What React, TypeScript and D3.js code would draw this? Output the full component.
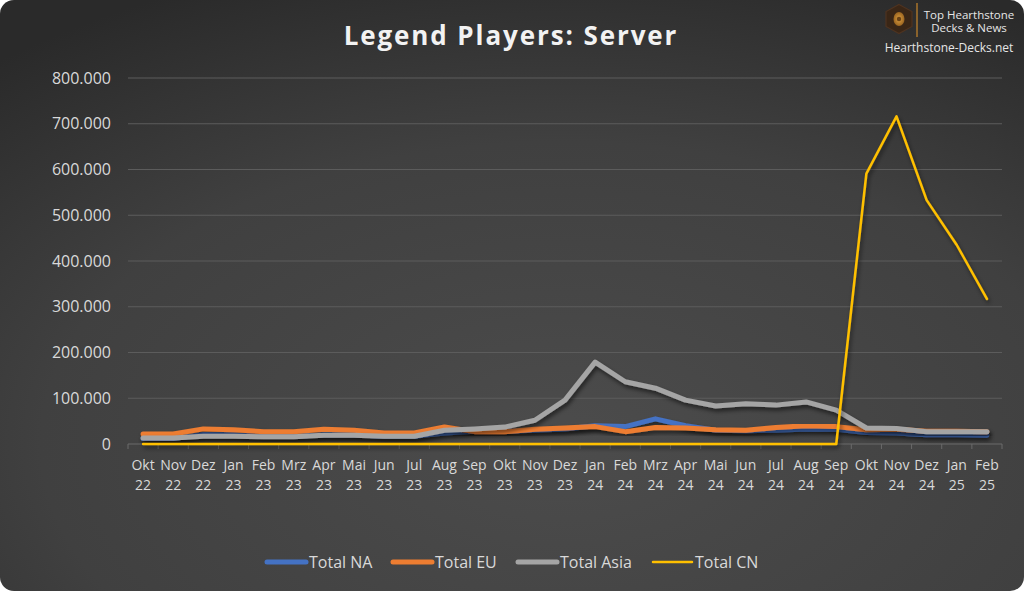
import React from "react";
import * as d3 from "d3";

const months = ["Okt","Nov","Dez","Jan","Feb","Mrz","Apr","Mai","Jun","Jul","Aug","Sep","Okt","Nov","Dez","Jan","Feb","Mrz","Apr","Mai","Jun","Jul","Aug","Sep","Okt","Nov","Dez","Jan","Feb"];
const years = ["22","22","22","23","23","23","23","23","23","23","23","23","23","23","23","24","24","24","24","24","24","24","24","24","24","24","24","25","25"];

const totalNA = [12000,12000,21000,20000,17000,17000,20000,20000,17000,17000,24000,28000,28000,30000,33000,40000,38000,55000,40000,30000,29000,30000,33000,32000,25000,24000,20000,20000,19000];
const totalEU = [22000,22000,33000,31000,27000,27000,32000,30000,24000,24000,37000,27000,27000,32000,35000,38000,27000,36000,35000,31000,30000,36000,40000,38000,31000,32000,28000,28000,27000];
const totalAsia = [13000,13000,17000,17000,16000,16000,19000,19000,17000,17000,30000,33000,37000,52000,96000,179000,136000,122000,96000,83000,88000,85000,92000,74000,35000,34000,27000,27000,27000];
const totalCN = [0,0,0,0,0,0,0,0,0,0,0,0,0,0,0,0,0,0,0,0,0,0,0,0,591000,716000,533000,435000,317000];

const yTicks = [0,100000,200000,300000,400000,500000,600000,700000,800000];

const series = [
  { name: "Total NA", values: totalNA, color: "#4472c4", width: 5 },
  { name: "Total EU", values: totalEU, color: "#ed7d31", width: 5 },
  { name: "Total Asia", values: totalAsia, color: "#a5a5a5", width: 5 },
  { name: "Total CN", values: totalCN, color: "#ffc000", width: 2.5 },
];

const W = 1024, H = 591;
const left = 128, right = 1002, top = 78, bottom = 444;

export default function App() {
  const x = d3.scaleBand<number>().domain(months.map((_, i) => i)).range([left, right]);
  const y = d3.scaleLinear().domain([0, 800000]).range([bottom, top]);
  const fmt = (v: number) => (v === 0 ? "0" : d3.format(",")(v).replace(/,/g, "."));
  const line = (vals: number[]) =>
    d3.line<number>().x((_, i) => (x(i) as number) + x.bandwidth() / 2).y((d) => y(d))(vals) as string;

  const legendItems = [
    { s: series[0], x0: 265 },
    { s: series[1], x0: 391 },
    { s: series[2], x0: 516 },
    { s: series[3], x0: 651 },
  ];
  const font = "'Open Sans', 'DejaVu Sans', sans-serif";

  return (
    <svg width={W} height={H} style={{ position: "absolute", left: 0, top: 0 }} fontFamily={font}>
      <defs>
        <radialGradient id="bg" cx="0.55" cy="0.75" r="0.85">
          <stop offset="0" stopColor="#4c4c4c" />
          <stop offset="0.6" stopColor="#404040" />
          <stop offset="1" stopColor="#2a2a2a" />
        </radialGradient>
        <filter id="sh" x="-10%" y="-10%" width="120%" height="130%">
          <feDropShadow dx="1.5" dy="3" stdDeviation="2" floodColor="#000" floodOpacity="0.55" />
        </filter>
        <radialGradient id="hex" cx="0.5" cy="0.5" r="0.5">
          <stop offset="0" stopColor="#e0a040" />
          <stop offset="1" stopColor="#9a6420" />
        </radialGradient>
      </defs>
      <rect x={0} y={0} width={W} height={H} fill="#ffffff" />
      <rect x={0} y={0} width={W} height={H} rx={14} ry={14} fill="url(#bg)" />

      {/* title */}
      <text x={511} y={45} textAnchor="middle" fill="#f2f2f2" fontSize={26} fontWeight={700} letterSpacing={1.9}>
        Legend Players: Server
      </text>

      {/* logo */}
      <g>
        <path d="M899,4.5 L912,11.5 L912,26.5 L899,33.5 L886,26.5 L886,11.5 Z" fill="#3a2616" stroke="#4e3320" strokeWidth={1.2} />
        <ellipse cx={899} cy={19} rx={5.5} ry={7} fill="url(#hex)" />
        <circle cx={899} cy={19} r={2.2} fill="#6a4216" />
        <line x1={917} y1={3} x2={917} y2={37} stroke="#c8862a" strokeWidth={1.2} />
        <text x={969} y={19} textAnchor="middle" fill="#e6e6e6" fontSize={11.5}>Top Hearthstone</text>
        <text x={969} y={32} textAnchor="middle" fill="#e6e6e6" fontSize={11.5}>Decks &amp; News</text>
        <text x={949} y={52} textAnchor="middle" fill="#e6e6e6" fontSize={12}>Hearthstone-Decks.net</text>
      </g>

      {/* grid */}
      {yTicks.map((t) => (
        <g key={t}>
          {t > 0 && <line x1={left} x2={right} y1={y(t)} y2={y(t)} stroke="#5c5c5c" strokeWidth={1} />}
          <text x={111} y={y(t) + 5.5} textAnchor="end" fill="#d9d9d9" fontSize={16}>{fmt(t)}</text>
        </g>
      ))}

      {/* x axis */}
      <line x1={left} x2={right} y1={bottom} y2={bottom} stroke="#6a6a6a" strokeWidth={1} />
      {months.map((_, i) => (
        <line key={"t" + i} x1={x(i) as number} x2={x(i) as number} y1={bottom} y2={bottom + 5} stroke="#6a6a6a" />
      ))}
      <line x1={right} x2={right} y1={bottom} y2={bottom + 5} stroke="#6a6a6a" />
      {months.map((m, i) => {
        const cx = (x(i) as number) + x.bandwidth() / 2;
        return (
          <text key={"l" + i} x={cx} textAnchor="middle" fill="#d9d9d9" fontSize={14}>
            <tspan x={cx} y={470}>{m}</tspan>
            <tspan x={cx} y={490}>{years[i]}</tspan>
          </text>
        );
      })}

      {/* lines */}
      {series.map((s) => (
        <path key={s.name} d={line(s.values)} fill="none" stroke={s.color} strokeWidth={s.width}
          strokeLinejoin="round" strokeLinecap="round" filter="url(#sh)" />
      ))}

      {/* legend */}
      {legendItems.map(({ s, x0 }) => (
        <g key={s.name}>
          <line x1={x0 + 2} x2={x0 + 41} y1={562} y2={562} stroke={s.color} strokeWidth={s.width} strokeLinecap="round" />
          <text x={x0 + 44} y={567.5} fill="#d9d9d9" fontSize={16}>{s.name}</text>
        </g>
      ))}
    </svg>
  );
}
